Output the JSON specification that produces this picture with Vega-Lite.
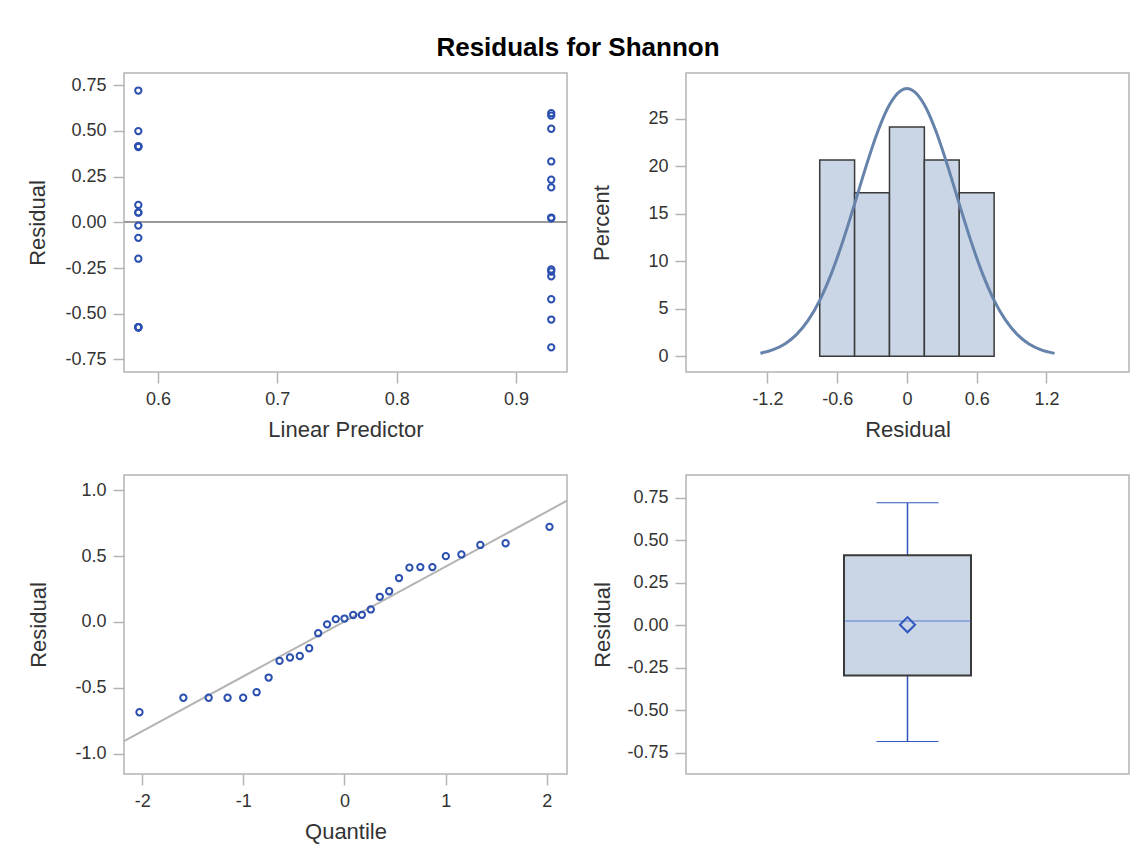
{
  "$schema": "https://vega.github.io/schema/vega-lite/v6.json",
  "background": "white",
  "padding": {"left": 26, "top": 35, "right": 5, "bottom": 5},
  "title": {"text": "Residuals for Shannon", "fontSize": 26, "fontWeight": "bold", "font": "Liberation Sans", "color": "#000000", "anchor": "middle", "dx": 0, "offset": 11},
  "bounds": "flush",
  "columns": 2,
  "spacing": {"row": 103, "column": 119},
  "datasets": {
    "resid": [
      {"pred": 0.9295, "resid": -0.684, "q": -2.027},
      {"pred": 0.5836, "resid": -0.574, "q": -1.593},
      {"pred": 0.5836, "resid": -0.574, "q": -1.343},
      {"pred": 0.5836, "resid": -0.574, "q": -1.156},
      {"pred": 0.5836, "resid": -0.574, "q": -1.002},
      {"pred": 0.9295, "resid": -0.532, "q": -0.869},
      {"pred": 0.9295, "resid": -0.421, "q": -0.750},
      {"pred": 0.9295, "resid": -0.295, "q": -0.642},
      {"pred": 0.9295, "resid": -0.269, "q": -0.539},
      {"pred": 0.9295, "resid": -0.258, "q": -0.442},
      {"pred": 0.5836, "resid": -0.199, "q": -0.349},
      {"pred": 0.5836, "resid": -0.085, "q": -0.260},
      {"pred": 0.5836, "resid": -0.018, "q": -0.172},
      {"pred": 0.9295, "resid": 0.022, "q": -0.086},
      {"pred": 0.9295, "resid": 0.026, "q": 0.0},
      {"pred": 0.5836, "resid": 0.053, "q": 0.086},
      {"pred": 0.5836, "resid": 0.054, "q": 0.172},
      {"pred": 0.5836, "resid": 0.095, "q": 0.260},
      {"pred": 0.9295, "resid": 0.191, "q": 0.349},
      {"pred": 0.9295, "resid": 0.233, "q": 0.442},
      {"pred": 0.9295, "resid": 0.333, "q": 0.539},
      {"pred": 0.5836, "resid": 0.412, "q": 0.642},
      {"pred": 0.5836, "resid": 0.416, "q": 0.750},
      {"pred": 0.5836, "resid": 0.416, "q": 0.869},
      {"pred": 0.5836, "resid": 0.499, "q": 1.002},
      {"pred": 0.9295, "resid": 0.512, "q": 1.156},
      {"pred": 0.9295, "resid": 0.584, "q": 1.343},
      {"pred": 0.9295, "resid": 0.597, "q": 1.593},
      {"pred": 0.5836, "resid": 0.721, "q": 2.027}
    ],
    "hist": [
      {"lo": -0.75, "hi": -0.45, "pct": 20.69},
      {"lo": -0.45, "hi": -0.15, "pct": 17.24},
      {"lo": -0.15, "hi": 0.15, "pct": 24.14},
      {"lo": 0.15, "hi": 0.45, "pct": 20.69},
      {"lo": 0.45, "hi": 0.75, "pct": 17.24}
    ],
    "curve": [
      {"x": -1.26, "p": 0.33},
      {"x": -1.15, "p": 0.71},
      {"x": -1.05, "p": 1.31},
      {"x": -0.95, "p": 2.29},
      {"x": -0.85, "p": 3.78},
      {"x": -0.75, "p": 5.90},
      {"x": -0.65, "p": 8.71},
      {"x": -0.55, "p": 12.16},
      {"x": -0.45, "p": 16.06},
      {"x": -0.35, "p": 20.06},
      {"x": -0.25, "p": 23.70},
      {"x": -0.15, "p": 26.49},
      {"x": -0.05, "p": 28.00},
      {"x": 0.0, "p": 28.2},
      {"x": 0.05, "p": 28.00},
      {"x": 0.15, "p": 26.49},
      {"x": 0.25, "p": 23.70},
      {"x": 0.35, "p": 20.06},
      {"x": 0.45, "p": 16.06},
      {"x": 0.55, "p": 12.16},
      {"x": 0.65, "p": 8.71},
      {"x": 0.75, "p": 5.90},
      {"x": 0.85, "p": 3.78},
      {"x": 0.95, "p": 2.29},
      {"x": 1.05, "p": 1.31},
      {"x": 1.15, "p": 0.71},
      {"x": 1.27, "p": 0.31}
    ],
    "qqline": [
      {"q": -2.18, "r": -0.903},
      {"q": 2.2, "r": 0.919}
    ]
  },
  "concat": [
    {
      "width": 443, "height": 299,
      "data": {"name": "resid"},
      "layer": [
        {"mark": {"type": "rule", "color": "#9a9a9a", "strokeWidth": 1.5},
         "encoding": {"y": {"datum": 0, "type": "quantitative"}}},
        {"mark": {"type": "point", "shape": "circle", "filled": false, "size": 40, "strokeWidth": 2, "color": "#2c50b0", "opacity": 1},
         "encoding": {
           "x": {"field": "pred", "type": "quantitative", "scale": {"domain": [0.5716, 0.9427], "nice": false, "zero": false},
                 "axis": {"values": [0.6, 0.7, 0.8, 0.9], "format": ".1f", "title": "Linear Predictor"}},
           "y": {"field": "resid", "type": "quantitative", "scale": {"domain": [-0.819, 0.817], "nice": false, "zero": false},
                 "axis": {"values": [-0.75, -0.5, -0.25, 0, 0.25, 0.5, 0.75], "labelExpr": "replace(format(datum.value, '.2f'), '\u2212', '-')", "title": "Residual", "titlePadding": 15}}
         }}
      ]
    },
    {
      "width": 443, "height": 299,
      "layer": [
        {"data": {"name": "hist"},
         "mark": {"type": "rect", "fill": "#cad5e5", "stroke": "#3a3a3a", "strokeWidth": 1.5},
         "encoding": {
           "x": {"field": "lo", "type": "quantitative", "scale": {"domain": [-1.9, 1.91], "nice": false, "zero": false},
                 "axis": {"values": [-1.2, -0.6, 0, 0.6, 1.2], "labelExpr": "replace(format(datum.value, '.1~f'), '\u2212', '-')", "title": "Residual"}},
           "x2": {"field": "hi"},
           "y": {"field": "pct", "type": "quantitative", "scale": {"domain": [-1.65, 29.84], "nice": false, "zero": false},
                 "axis": {"values": [0, 5, 10, 15, 20, 25], "title": "Percent", "titlePadding": 34}},
           "y2": {"datum": 0}
         }},
        {"data": {"name": "curve"},
         "mark": {"type": "line", "color": "#6683ab", "strokeWidth": 3, "interpolate": "monotone"},
         "encoding": {
           "x": {"field": "x", "type": "quantitative"},
           "y": {"field": "p", "type": "quantitative"}
         }}
      ]
    },
    {
      "width": 443, "height": 299,
      "layer": [
        {"data": {"name": "qqline"},
         "mark": {"type": "line", "color": "#b4b4b4", "strokeWidth": 2, "clip": true},
         "encoding": {
           "x": {"field": "q", "type": "quantitative"},
           "y": {"field": "r", "type": "quantitative"}
         }},
        {"data": {"name": "resid"},
         "mark": {"type": "point", "shape": "circle", "filled": false, "size": 40, "strokeWidth": 2, "color": "#2c50b0", "opacity": 1},
         "encoding": {
           "x": {"field": "q", "type": "quantitative", "scale": {"domain": [-2.18, 2.2], "nice": false, "zero": false},
                 "axis": {"values": [-2, -1, 0, 1, 2], "labelExpr": "replace(format(datum.value, 'd'), '\u2212', '-')", "title": "Quantile"}},
           "y": {"field": "resid", "type": "quantitative", "scale": {"domain": [-1.152, 1.114], "nice": false, "zero": false},
                 "axis": {"values": [-1, -0.5, 0, 0.5, 1], "labelExpr": "replace(format(datum.value, '.1f'), '\u2212', '-')", "title": "Residual", "titlePadding": 24}}
         }}
      ]
    },
    {
      "width": 443, "height": 299,
      "data": {"name": "resid"},
      "layer": [
        {"mark": {"type": "boxplot", "extent": "min-max", "size": 127,
                  "box": {"fill": "#cad5e5", "stroke": "#3a3a3a", "strokeWidth": 2},
                  "median": {"color": "#2f56c0", "strokeWidth": 1.5},
                  "rule": {"color": "#2f56c0", "strokeWidth": 1.5},
                  "ticks": {"color": "#2f56c0", "size": 62, "strokeWidth": 1.5}},
         "encoding": {
           "y": {"field": "resid", "type": "quantitative", "scale": {"domain": [-0.875, 0.885], "nice": false, "zero": false},
                 "axis": {"values": [-0.75, -0.5, -0.25, 0, 0.25, 0.5, 0.75], "labelExpr": "replace(format(datum.value, '.2f'), '\u2212', '-')", "title": "Residual", "titlePadding": 12}}
         }},
        {"mark": {"type": "point", "shape": "diamond", "filled": false, "size": 230, "strokeWidth": 2, "color": "#2f56c0", "opacity": 1},
         "encoding": {
           "y": {"aggregate": "mean", "field": "resid", "type": "quantitative", "title": "Residual"}
         }}
      ]
    }
  ],
  "config": {
    "font": "Liberation Sans",
    "view": {"stroke": "#b4b4b4", "strokeWidth": 1.5},
    "axis": {"domain": false, "grid": false, "tickColor": "#b4b4b4", "tickSize": 11, "tickWidth": 1.5,
             "labelFontSize": 18, "labelColor": "#333333", "labelFont": "Liberation Sans", "labelPadding": 7,
             "titleFontSize": 22, "titleFontWeight": "normal", "titleColor": "#333333", "titleFont": "Liberation Sans", "titlePadding": 11}
  }
}
